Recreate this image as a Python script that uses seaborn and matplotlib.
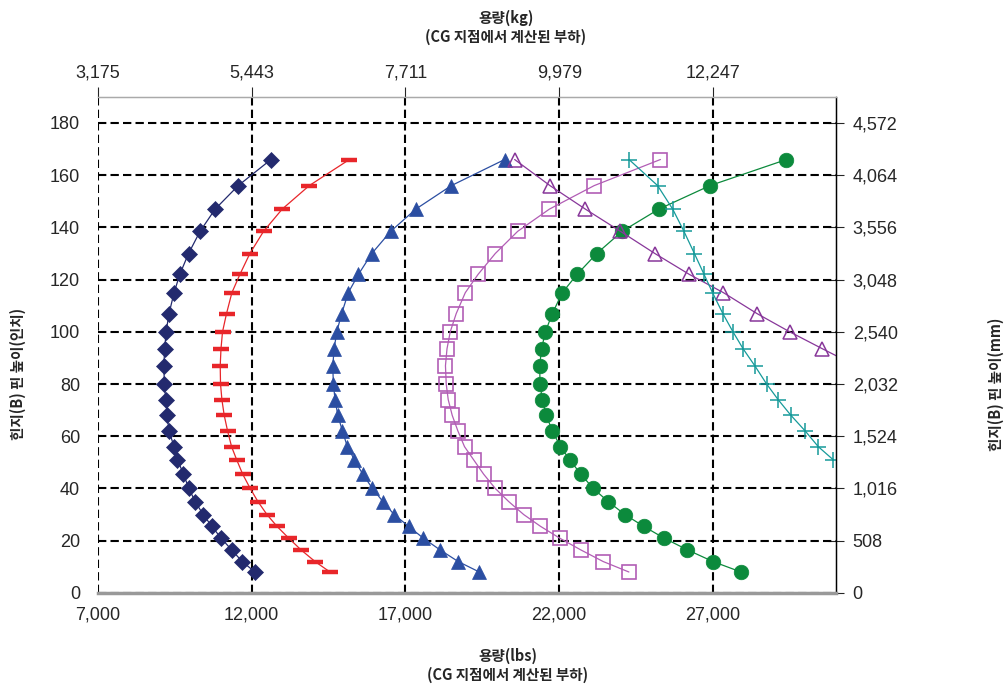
import pandas as pd
import matplotlib.pyplot as plt
import seaborn as sns

# hinge pin height (inches), shared by all curves
heights = [166, 156, 147, 138.5, 130, 122, 115, 107, 100, 93.5, 87, 80, 74,
           68, 62, 56, 51, 45.5, 40, 35, 30, 25.5, 21, 16.5, 12, 8]

# capacity (lbs), one list per curve
diamond_lbs = [12625, 11560, 10810, 10320, 9945, 9660, 9475, 9310, 9215, 9170, 9140, 9160, 9205,
               9250, 9310, 9475, 9585, 9780, 9955, 10160, 10420, 10705, 11000, 11345, 11690, 12105]
dash_lbs = [15175, 13870, 12990, 12385, 11940, 11615, 11355, 11180, 11050, 11000, 10975, 10985, 11030,
            11105, 11215, 11345, 11510, 11705, 11950, 12200, 12495, 12820, 13200, 13600, 14060, 14545]
tri_lbs = [20225, 18490, 17335, 16520, 15905, 15470, 15140, 14925, 14765, 14680, 14635, 14655, 14710,
           14800, 14950, 15110, 15340, 15610, 15925, 16265, 16630, 17100, 17575, 18120, 18715, 19400]
square_lbs = [25290, 23135, 21680, 20650, 19920, 19360, 18945, 18650, 18455, 18350, 18300, 18325, 18390,
              18520, 18705, 18920, 19215, 19540, 19920, 20355, 20845, 21390, 22010, 22695, 23430, 24265]
circle_lbs = [29390, 26900, 25240, 24045, 23220, 22580, 22100, 21775, 21550, 21425, 21365, 21375, 21450,
              21580, 21775, 22040, 22340, 22700, 23105, 23590, 24135, 24745, 25405, 26165, 27000, 27910]
open_tri_lbs = [20550, 21700, 22850, 23990, 25110, 26230, 27340, 28430, 29495, 30560, 31650]
plus_lbs = [24270, 25200, 25690, 26055, 26395, 26710, 26985, 27320, 27650, 27980, 28360, 28745, 29120,
            29535, 30000, 30425, 30910]

# axis ticks and their labels
lbs_ticks = [7000, 12000, 17000, 22000, 27000]
kg_labels = ["3,175", "5,443", "7,711", "9,979", "12,247"]
in_ticks = [0, 20, 40, 60, 80, 100, 120, 140, 160, 180]
mm_labels = ["0", "508", "1,016", "1,524", "2,032", "2,540", "3,048", "3,556", "4,064", "4,572"]

sns.set_style("white")
plt.rcParams['font.family'] = ['Liberation Sans', 'Noto Sans CJK KR']
kfont = ['Noto Sans CJK KR', 'DejaVu Sans']

fig, ax = plt.subplots(figsize=(10.06, 6.87), dpi=100)
fig.subplots_adjust(left=0.0974, right=0.831, bottom=0.137, top=0.859)

# (x list, marker, color, size, filled, edge width)
series = [
    (diamond_lbs, 'D', '#232a6e', 8.5, True, 0.5),
    (dash_lbs, '_', '#e8262a', 11, True, 3.2),
    (tri_lbs, '^', '#2b4ea2', 10, True, 0.5),
    (square_lbs, 's', '#b25db5', 10, False, 1.2),
    (circle_lbs, 'o', '#0c8a3c', 10.5, True, 0.5),
    (open_tri_lbs, '^', '#88379a', 10.5, False, 1.1),
    (plus_lbs, '+', '#169a9a', 11, True, 1.1),
]
for xs, mk, col, ms, filled, mew in series:
    d = pd.DataFrame({"lbs": xs, "inch": heights[:len(xs)]})
    sns.lineplot(data=d, x="lbs", y="inch", sort=False, estimator=None, ax=ax,
                 color=col, linewidth=0.9, marker=mk, markersize=ms,
                 markerfacecolor=col if filled else 'none',
                 markeredgecolor=col, markeredgewidth=mew)

ax.set_xlim(7000, 31000)
ax.set_ylim(0, 190)
ax.set_xticks(lbs_ticks)
ax.set_xticklabels([f"{t:,}" for t in lbs_ticks])
ax.set_yticks(in_ticks)
ax.set_xlabel("")
ax.set_ylabel("")
ax.grid(True, color='black', linestyle=(0, (4, 2)), linewidth=1.5)
ax.tick_params(axis='both', labelsize=13, length=5, width=1, color='black')
ax.tick_params(axis='y', pad=8)
ax.tick_params(axis='x', pad=5)

ax.spines['left'].set_visible(False)
ax.spines['bottom'].set_color('#999999')
ax.spines['bottom'].set_linewidth(2.5)
ax.spines['right'].set_color('black')
ax.spines['right'].set_linewidth(1)
ax.spines['top'].set_color('#aaaaaa')
ax.spines['top'].set_linewidth(1)

# kg on top, mm on right
top = ax.secondary_xaxis('top', functions=(lambda x: x * 0.45359237, lambda x: x / 0.45359237))
top.set_xticks([t * 0.45359237 for t in lbs_ticks])
top.set_xticklabels(kg_labels)
top.tick_params(labelsize=13, length=7, pad=4)
top.spines['top'].set_color('#aaaaaa')

right = ax.secondary_yaxis('right', functions=(lambda y: y * 25.4, lambda y: y / 25.4))
right.set_yticks([t * 25.4 for t in in_ticks])
right.set_yticklabels(mm_labels)
right.tick_params(labelsize=13, length=12, direction='inout', pad=6)
right.spines['right'].set_color('black')

# axis titles
fig.text(0.503, 0.986, "용량(kg)\n(CG 지점에서 계산된 부하)", ha='center', va='top',
         fontsize=10.5, fontweight='bold', family=kfont, linespacing=1.2)
fig.text(0.505, 0.032, "용량(lbs)\n(CG 지점에서 계산된 부하)", ha='center', va='center',
         fontsize=10.5, fontweight='bold', family=kfont, linespacing=1.2)
fig.text(0.018, 0.455, "힌지(B) 핀 높이(인치)", ha='center', va='center', rotation=90,
         fontsize=10.5, fontweight='bold', family=kfont)
fig.text(0.99, 0.44, "힌지(B) 핀 높이(mm)", ha='center', va='center', rotation=90,
         fontsize=10.5, fontweight='bold', family=kfont)

plt.savefig("out.png", dpi=100)
